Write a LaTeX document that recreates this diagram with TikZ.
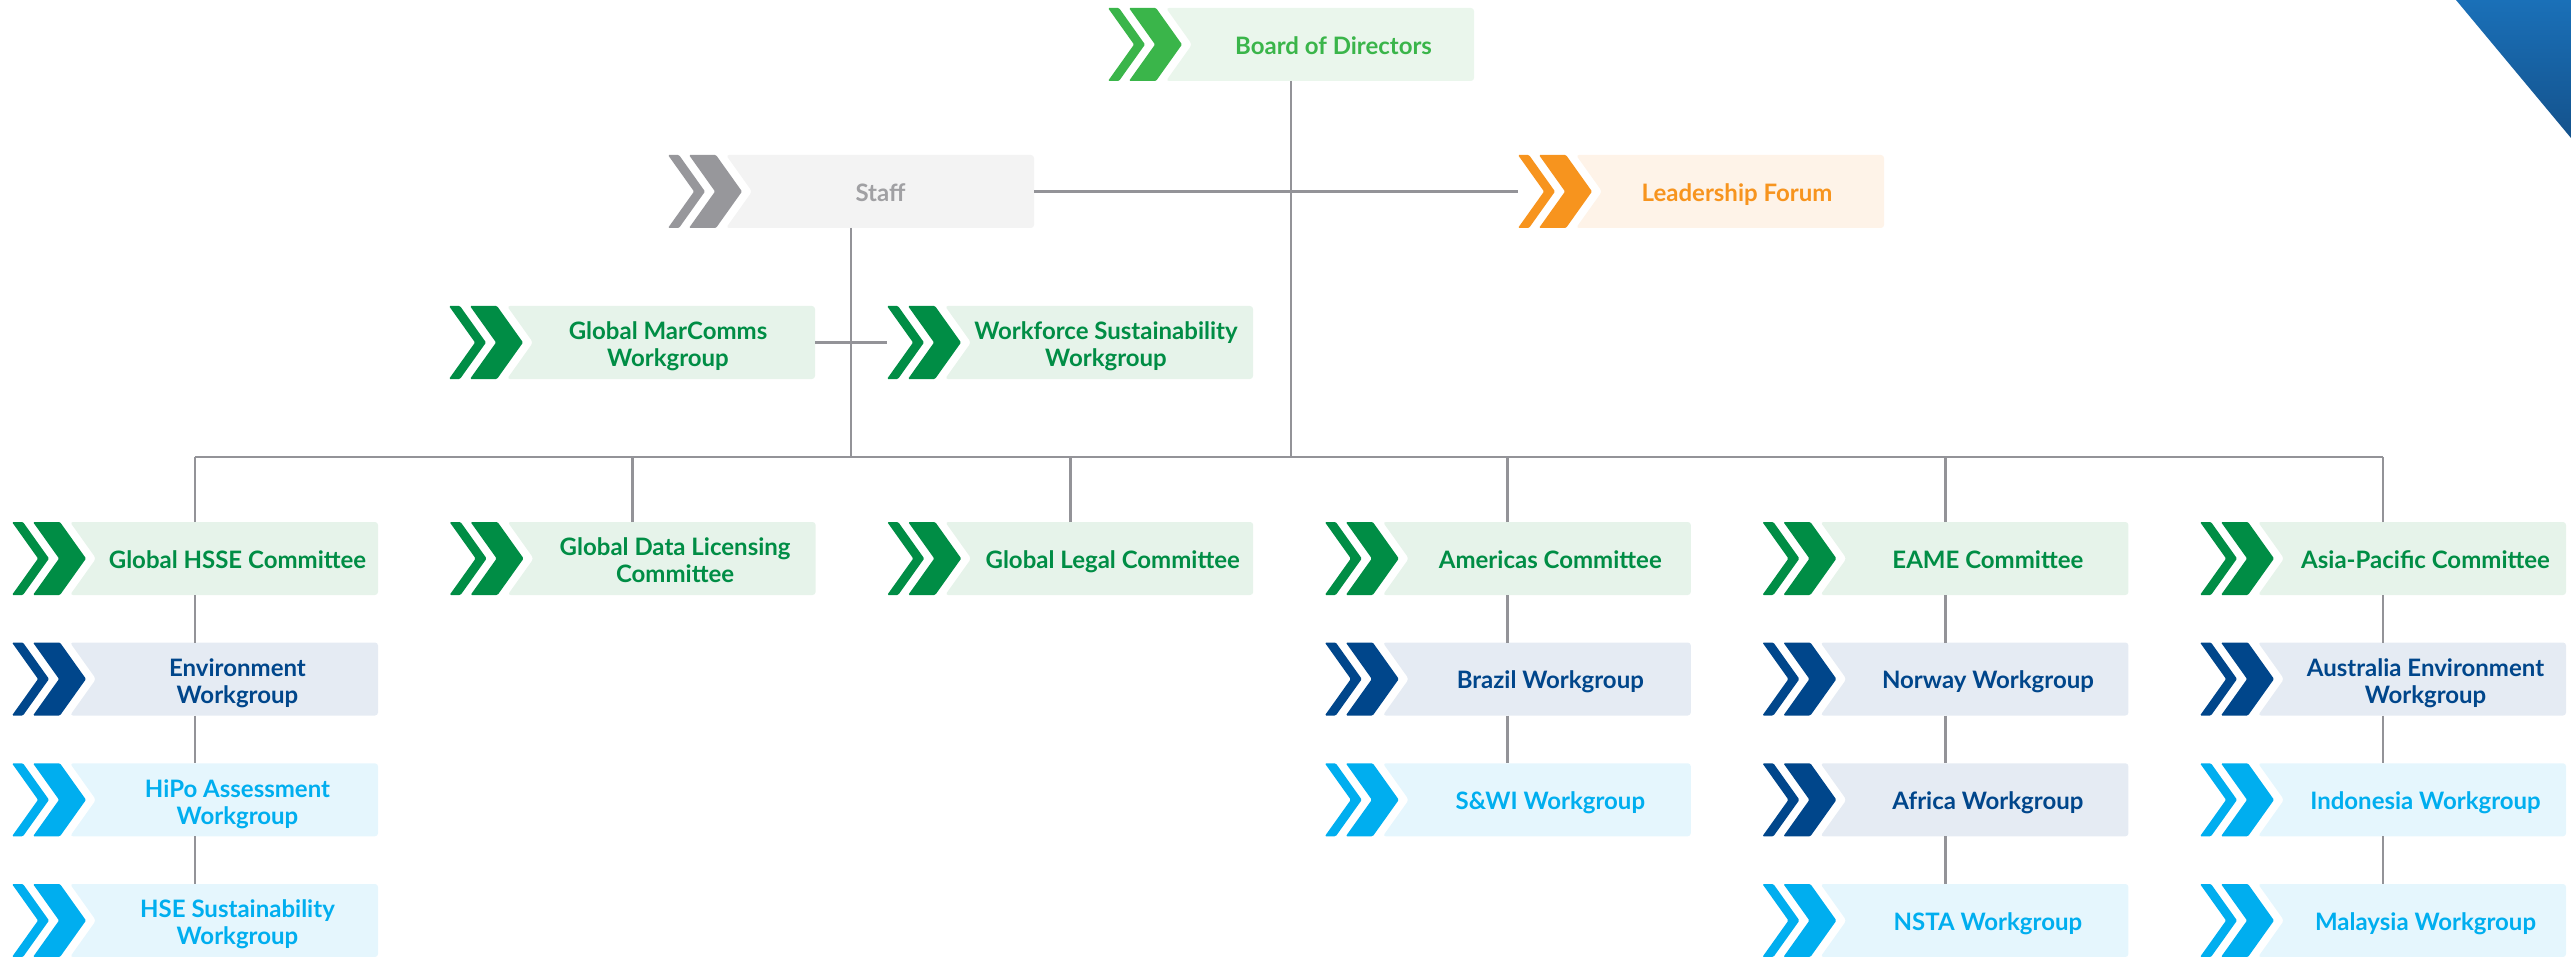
\documentclass[tikz,border=0pt]{standalone}
\usepackage{fontspec}
\setmainfont{Lato}
\definecolor{gdark}{HTML}{008D45}
\definecolor{glight}{HTML}{E6F3EA}
\definecolor{gbright}{HTML}{3AB54A}
\definecolor{gbrightlight}{HTML}{EAF6EC}
\definecolor{graychev}{HTML}{97979B}
\definecolor{graytext}{HTML}{A0A0A3}
\definecolor{graylight}{HTML}{F3F3F3}
\definecolor{orgorange}{HTML}{F7941E}
\definecolor{orgorangelight}{HTML}{FEF3E8}
\definecolor{bdark}{HTML}{00468B}
\definecolor{bdarklight}{HTML}{E5EBF3}
\definecolor{blite}{HTML}{00AEEF}
\definecolor{blitelight}{HTML}{E5F6FD}
\definecolor{linegray}{HTML}{939398}
\definecolor{cornerA}{HTML}{1A70B8}
\definecolor{cornerB}{HTML}{14528C}
\tikzset{
  boxarea/.style={minimum width=366pt, minimum height=73pt, inner sep=0pt, outer sep=0pt, anchor=north west},
  boxtext/.style={font=\bfseries\fontsize{24}{27}\selectfont, align=center, inner sep=0pt, outer sep=0pt, text height=17.4pt, text depth=0pt, yshift=-1pt},
  two/.style={yshift=-14.5pt},
  conn/.style={draw=linegray, line width=2.7pt},
}
\newcommand{\orgbox}[7][]{%
  \node[boxarea] (#2) at (#3,#4) {};
  \begin{scope}[shift={(#2.north west)}]
    \fill[#5, rounded corners=1.2pt] (0,0) -- (11,0) -- (37,36.5) -- (11,73) -- (0,73) -- (26,36.5) -- cycle;
    \fill[#5, rounded corners=1.2pt] (21,0) -- (48,0) -- (74,36.5) -- (48,73) -- (21,73) -- (47,36.5) -- cycle;
    \fill[#6, rounded corners=3pt] (58,0) -- (366,0) -- (366,73) -- (58,73) -- (84,36.5) -- cycle;
  \end{scope}
  \node[boxtext, #1, text=#7] (#2-t) at ([xshift=225.5pt]#2.west) {\orgtext};
}
\newcommand{\orgtext}{}
\newcommand{\ob}[8][]{\renewcommand{\orgtext}{#8}\orgbox[#1]{#2}{#3}{#4}{#5}{#6}{#7}}
\begin{document}
\begin{tikzpicture}[x=1pt,y=-1pt]
\useasboundingbox (0,0) rectangle (2571,957);
\shade[top color=cornerA, bottom color=cornerB] (2456,0) -- (2571,0) -- (2571,138) -- cycle;

\ob{board}{1108}{8}{gbright}{gbrightlight}{gbright}{Board of Directors}
\ob[xshift=-13pt]{staff}{668}{155}{graychev}{graylight}{graytext}{Staff}
\ob[xshift=-6.5pt]{leader}{1518}{155}{orgorange}{orgorangelight}{orgorange}{Leadership Forum}
\ob[two,xshift=-6.5pt]{marcomms}{449}{306}{gdark}{glight}{gdark}{Global MarComms\\Workgroup}
\ob[two,xshift=-6.5pt]{workforce}{887}{306}{gdark}{glight}{gdark}{Workforce Sustainability\\Workgroup}

\ob{hsse}{12}{522}{gdark}{glight}{gdark}{Global HSSE Committee}
\ob[two]{gdl}{449.6}{522}{gdark}{glight}{gdark}{Global Data Licensing\\Committee}
\ob{legal}{887.2}{522}{gdark}{glight}{gdark}{Global Legal Committee}
\ob{americas}{1324.8}{522}{gdark}{glight}{gdark}{Americas Committee}
\ob{eame}{1762.4}{522}{gdark}{glight}{gdark}{EAME Committee}
\ob{asia}{2200}{522}{gdark}{glight}{gdark}{Asia-Pacific Committee}

\ob[two]{env}{12}{642.5}{bdark}{bdarklight}{bdark}{Environment\\Workgroup}
\ob[two]{hipo}{12}{763.3}{blite}{blitelight}{blite}{HiPo Assessment\\Workgroup}
\ob[two]{hse}{12}{884}{blite}{blitelight}{blite}{HSE Sustainability\\Workgroup}

\ob{brazil}{1324.8}{642.5}{bdark}{bdarklight}{bdark}{Brazil Workgroup}
\ob{swi}{1324.8}{763.3}{blite}{blitelight}{blite}{S\&WI Workgroup}

\ob{norway}{1762.4}{642.5}{bdark}{bdarklight}{bdark}{Norway Workgroup}
\ob{africa}{1762.4}{763.3}{bdark}{bdarklight}{bdark}{Africa Workgroup}
\ob{nsta}{1762.4}{884}{blite}{blitelight}{blite}{NSTA Workgroup}

\ob[two]{australia}{2200}{642.5}{bdark}{bdarklight}{bdark}{Australia Environment\\Workgroup}
\ob{indonesia}{2200}{763.3}{blite}{blitelight}{blite}{Indonesia Workgroup}
\ob{malaysia}{2200}{884}{blite}{blitelight}{blite}{Malaysia Workgroup}

\coordinate (bus) at (0,457);
\draw[conn] (hsse.north |- bus) -- (asia.north |- bus);
\draw[conn] (board.south) -- (board.south |- bus);
\draw[conn] (staff.south) -- (staff.south |- bus);
\draw[conn] (staff.east) -- (leader.west);
\draw[conn] (marcomms.east) -- (workforce.west);
\foreach \c in {hsse,gdl,legal,americas,eame,asia}
  \draw[conn] (\c.north) -- (\c.north |- bus);
\draw[conn] (hsse.south) -- (env.north);
\draw[conn] (env.south) -- (hipo.north);
\draw[conn] (hipo.south) -- (hse.north);
\draw[conn] (americas.south) -- (brazil.north);
\draw[conn] (brazil.south) -- (swi.north);
\draw[conn] (eame.south) -- (norway.north);
\draw[conn] (norway.south) -- (africa.north);
\draw[conn] (africa.south) -- (nsta.north);
\draw[conn] (asia.south) -- (australia.north);
\draw[conn] (australia.south) -- (indonesia.north);
\draw[conn] (indonesia.south) -- (malaysia.north);
\end{tikzpicture}
\end{document}
